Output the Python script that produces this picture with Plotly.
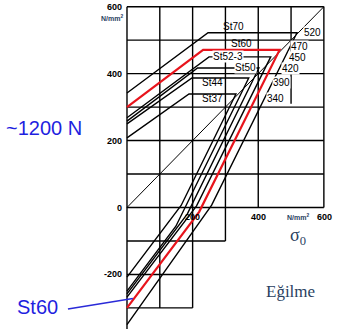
import plotly.graph_objects as go

# ---- data ----
steels = ["St37", "St44", "St50", "St52-3", "St60", "St70"]
sigma_w_upper = [208, 250, 258, 268, 300, 342]       # upper line at sigma_m = 0
knee_up_x = [189, 198, 215, 250, 232, 247]           # where upper line meets yield level
sigma_f = [339, 387, 417, 450, 471, 522]             # yield level (horizontal)
corner_x = [332, 371, 402, 438, 465, 518]            # end of horizontal part
knee_low_x = [165, 149, 184, 212, 220, 258]          # knee of lower line
knee_low_y = [6, -56, -19, 5, -13, 7]
sigma_w_lower = [-208, -250, -258, -268, -300, -350]  # lower line at sigma_m = 0
sigma_f_labels = ["340", "390", "420", "450", "470", "520"]
line_colors = ["black", "black", "black", "black", "#e8141c", "black"]

y_ticks = [600, 400, 200, 0, -200]
x_ticks = [200, 400]

X0, X1 = -387, 640
Y0, Y1 = -363, 620

fig = go.Figure()

# grid (irregular, as in the drawing)
gx, gy = [], []
for h in [0, 100, 200, 300, 400, 500, 600]:
    gx += [0, 600, None]; gy += [h, h, None]
for v in [100, 200, 300, 400, 600]:
    gx += [v, v, None]; gy += [0, 600, None]
gx += [500, 500, None]; gy += [310, 600, None]
gx += [0, 0, None]; gy += [Y0, 600, None]
for v, lo in [(100, -300), (200, -300), (300, -100)]:
    gx += [v, v, None]; gy += [lo, 0, None]
for h, hi in [(-100, 300), (-200, 200), (-300, 200)]:
    gx += [0, hi, None]; gy += [h, h, None]
fig.add_trace(go.Scatter(x=gx, y=gy, mode="lines",
                         line=dict(color="black", width=1.4), hoverinfo="skip"))

# 45 degree line
fig.add_trace(go.Scatter(x=[0, 600], y=[0, 600], mode="lines",
                         line=dict(color="black", width=1), hoverinfo="skip"))

# Smith diagram lines
order = [0, 1, 2, 3, 5, 4]
for i in order:
    xs = [0, knee_up_x[i], corner_x[i], knee_low_x[i], 0]
    ys = [sigma_w_upper[i], sigma_f[i], sigma_f[i], knee_low_y[i], sigma_w_lower[i]]
    fig.add_trace(go.Scatter(x=xs, y=ys, mode="lines", name=steels[i],
                             line=dict(color=line_colors[i],
                                       width=2.2 if i == 4 else 1.4)))

ann = []
lab_font = dict(family="Liberation Sans", size=10, color="black")
# steel name labels
name_pos = {"St70": (324, 540), "St60": (348, 490),
            "St52-3": (309, 450), "St50": (360, 417),
            "St44": (262, 373), "St37": (262, 325)}
for s in steels:
    x, y = name_pos[s]
    bg = "white" if s in ("St52-3", "St50") else "rgba(0,0,0,0)"
    ann.append(dict(x=x, y=y, text=s, showarrow=False, font=lab_font,
                    bgcolor=bg, borderpad=0))
# yield labels
num_pos = [(453, 325), (470, 373), (497, 415), (521, 448), (527, 480), (566, 522)]
for t, (x, y) in zip(sigma_f_labels, num_pos):
    ann.append(dict(x=x, y=y, text=t, showarrow=False, font=lab_font,
                    bgcolor="white", borderpad=0))

tick_font = dict(family="Liberation Sans", size=9, color="black")
for v in y_ticks:
    ann.append(dict(x=-8, y=v, text=f"<b>{v}</b>", showarrow=False,
                    xanchor="right", font=tick_font))
ann.append(dict(x=-5, y=567, text="<b>N/mm<sup>2</sup></b>", showarrow=False,
                xanchor="right", font=dict(family="Liberation Sans", size=7)))
for v in x_ticks:
    ann.append(dict(x=v, y=-27, text=f"<b>{v}</b>", showarrow=False,
                    font=tick_font))
ann.append(dict(x=520, y=-27, text="<b>N/mm<sup>2</sup></b>", showarrow=False,
                font=dict(family="Liberation Sans", size=7)))
ann.append(dict(x=603, y=-27, text="<b>600</b>", showarrow=False, font=tick_font))
ann.append(dict(x=520, y=-87, text="σ<sub>0</sub>", showarrow=False,
                font=dict(family="Liberation Serif", size=18)))
ann.append(dict(x=498, y=-250, text="Eğilme", showarrow=False,
                font=dict(family="Liberation Serif", size=17)))
ann.append(dict(x=-252, y=237, text="~1200 N", showarrow=False,
                font=dict(family="Liberation Sans", size=20, color="#1f1fe0")))
ann.append(dict(x=-273, y=-297, text="St60", showarrow=False,
                font=dict(family="Liberation Sans", size=20, color="#1f1fe0")))

# blue pointer line
fig.add_trace(go.Scatter(x=[-180, 18], y=[-303, -272], mode="lines",
                         line=dict(color="#2a2ad8", width=1.5), hoverinfo="skip"))

fig.update_layout(width=337, height=329, margin=dict(l=0, r=0, t=0, b=0),
                  paper_bgcolor="white", plot_bgcolor="white", showlegend=False,
                  annotations=ann)
fig.update_xaxes(range=[X0, X1], visible=False)
fig.update_yaxes(range=[Y0, Y1], visible=False)
fig.write_html("out.html", config={"displayModeBar": False},
               post_script="document.body.style.margin='0';document.body.style.overflow='hidden';")
